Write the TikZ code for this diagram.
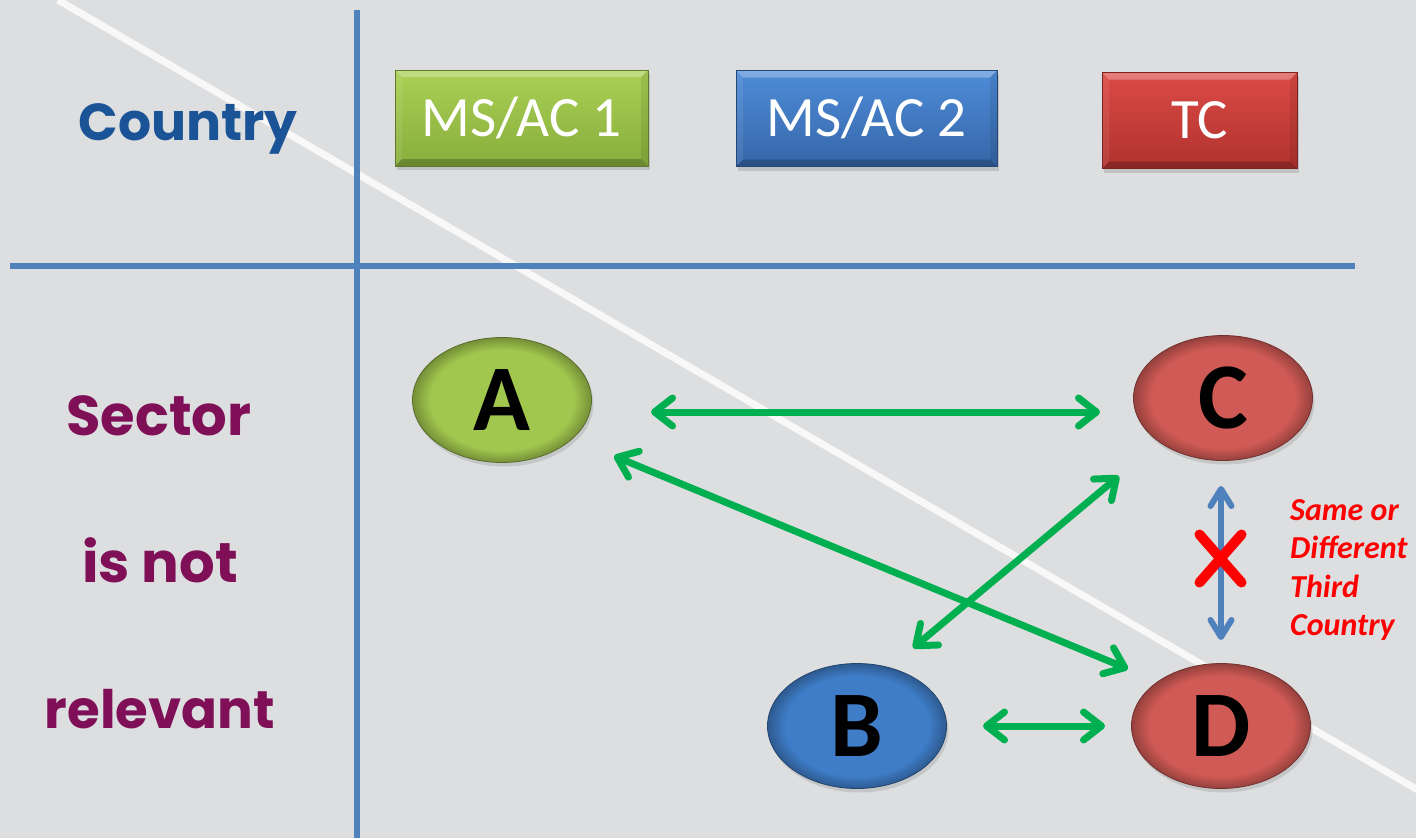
\documentclass[tikz,border=0pt]{standalone}
\usepackage{fontspec}
\setmainfont{Carlito}
\newfontfamily\comicfont{Poppins}
\usetikzlibrary{arrows.meta,shapes.geometric,shadows}
\definecolor{bg}{HTML}{DDDEE0}
\definecolor{gridblue}{HTML}{4F81BD}
\definecolor{arrgreen}{HTML}{00B050}
\definecolor{countryblue}{HTML}{1A5496}
\definecolor{sectorpurple}{HTML}{7F1058}
\definecolor{gtop}{HTML}{AAD055}
\definecolor{gbot}{HTML}{88AE3C}
\definecolor{btop}{HTML}{4E8CD8}
\definecolor{bbot}{HTML}{3566A8}
\definecolor{rtop}{HTML}{DC4A45}
\definecolor{rbot}{HTML}{B0322E}
\definecolor{ellgreen}{HTML}{A2C74E}
\definecolor{ellblue}{HTML}{3F7DC8}
\definecolor{ellred}{HTML}{D05A55}
\colorlet{ellc}{ellgreen}
\colorlet{elld}{ellgreen!70!black}
\pgfdeclareradialshading[ellc,elld]{rimshade}{\pgfpoint{0bp}{0bp}}{color(0bp)=(ellc); color(20bp)=(ellc); color(25bp)=(elld); color(50bp)=(elld)}
\tikzset{
  gridline/.style={draw=gridblue, line width=6pt},
  hbox/.style={rectangle, inner sep=0pt, minimum width=#1, minimum height=96pt,
    text=white, font=\fontsize{57}{57}\selectfont, text height=36.7pt, text depth=0pt,
    drop shadow={shadow xshift=2pt, shadow yshift=-4pt, opacity=0.3},
    path picture={
      \fill[white, opacity=0.28] (path picture bounding box.north west) -- (path picture bounding box.north east)
        -- ([shift={(-7pt,-7pt)}]path picture bounding box.north east) -- ([shift={(7pt,-7pt)}]path picture bounding box.north west) -- cycle;
      \fill[black, opacity=0.22] (path picture bounding box.south west) -- (path picture bounding box.south east)
        -- ([shift={(-7pt,7pt)}]path picture bounding box.south east) -- ([shift={(7pt,7pt)}]path picture bounding box.south west) -- cycle;
      \fill[black, opacity=0.08] (path picture bounding box.north east) -- (path picture bounding box.south east)
        -- ([shift={(-7pt,7pt)}]path picture bounding box.south east) -- ([shift={(-7pt,-7pt)}]path picture bounding box.north east) -- cycle;
      \fill[white, opacity=0.08] (path picture bounding box.north west) -- (path picture bounding box.south west)
        -- ([shift={(7pt,7pt)}]path picture bounding box.south west) -- ([shift={(7pt,-7pt)}]path picture bounding box.north west) -- cycle;
    }},
  ell/.style={ellipse, inner sep=0pt, minimum width=179pt, minimum height=125pt,
    font=\fontsize{94}{94}\selectfont\bfseries, text=black,
    /utils/exec={\colorlet{ellc}{#1}\colorlet{elld}{#1!72!black}},
    shade, shading=rimshade, draw=#1!55!black, line width=0.8pt,
    drop shadow={shadow xshift=2pt, shadow yshift=-4pt, opacity=0.25}},
  comictxt/.style={font=\comicfont\bfseries\fontsize{#1}{#1}\selectfont, anchor=base, inner sep=0pt},
  garrow/.style={draw=arrgreen, line width=7pt,
    {Straight Barb[length=18pt,width=28pt,round]}-{Straight Barb[length=18pt,width=28pt,round]}},
  barrow/.style={draw=gridblue, line width=6pt,
    {Straight Barb[length=17pt,width=21pt,round]}-{Straight Barb[length=17pt,width=21pt,round]}},
}
\begin{document}
\begin{tikzpicture}[x=1pt,y=-1pt]
\path[fill=bg] (0,0) rectangle (1416,838);
\useasboundingbox (0,0) rectangle (1416,838);
% white diagonal
\coordinate (dstart) at (58,0);
\coordinate (dend) at (1430,797);
\draw[white!80!bg, line width=7pt] (dstart) -- (dend);
% grid lines
\coordinate (vt) at (357,10);
\coordinate (vb) at (357,838);
\coordinate (hl) at (10,266);
\coordinate (hr) at (1355,266);
\draw[gridline] (vt) -- (vb);
\draw[gridline] (hl) -- (hr);
% header labels
\node[comictxt=52, text=countryblue] (country) at (188,140) {Country};
\node[comictxt=56, text=sectorpurple] (sector) at (159,435) {Sector};
\node[comictxt=56, text=sectorpurple] (isnot) at (160,582) {is not};
\node[comictxt=53, text=sectorpurple] (relevant) at (160,728) {relevant};
% country boxes
\node[hbox=253pt, top color=gtop, bottom color=gbot, draw=gbot!70!black, line width=0.8pt] (ms1) at (521.5,118) {MS/AC 1};
\node[hbox=261pt, top color=btop, bottom color=bbot, draw=bbot!70!black, line width=0.8pt] (ms2) at (866.5,118.5) {MS/AC 2};
\node[hbox=195pt, top color=rtop, bottom color=rbot, draw=rbot!70!black, line width=0.8pt] (tc) at (1199.5,120.5) {TC};
% ellipses
\node[ell=ellgreen] (A) at (502,400) {A};
\node[ell=ellred] (C) at (1223,398) {C};
\node[ell=ellblue] (B) at (857,726) {B};
\node[ell=ellred] (D) at (1221,726) {D};
% green arrows
\draw[garrow] ([shift={(149,12)}]A.center) -- ([shift={(-123,14)}]C.center);
\draw[garrow] ([shift={(112,56)}]A.center) -- ([shift={(-93,-57)}]D.center);
\draw[garrow] ([shift={(56,-78)}]B.center) -- ([shift={(-104,78)}]C.center);
\draw[garrow] ([shift={(126,0)}]B.center) -- ([shift={(-116,0)}]D.center);
% blue arrow C-D
\draw[barrow] ([shift={(-2,88)}]C.center) -- ([shift={(0,-86)}]D.center);
% red cross
\coordinate (xm) at (1220.5,558.5);
\draw[red, line width=10pt, line cap=round] ([shift={(-21,-24)}]xm) -- ([shift={(21,24)}]xm);
\draw[red, line width=10pt, line cap=round] ([shift={(21,-24)}]xm) -- ([shift={(-21,24)}]xm);
% note
\node[anchor=base west, inner sep=0pt, align=left, text=red,
  font=\fontsize{32}{38.5}\selectfont\bfseries\itshape] (note) at (1290,635.5)
  {Same or\\Different\\Third\\Country};
\end{tikzpicture}
\end{document}
